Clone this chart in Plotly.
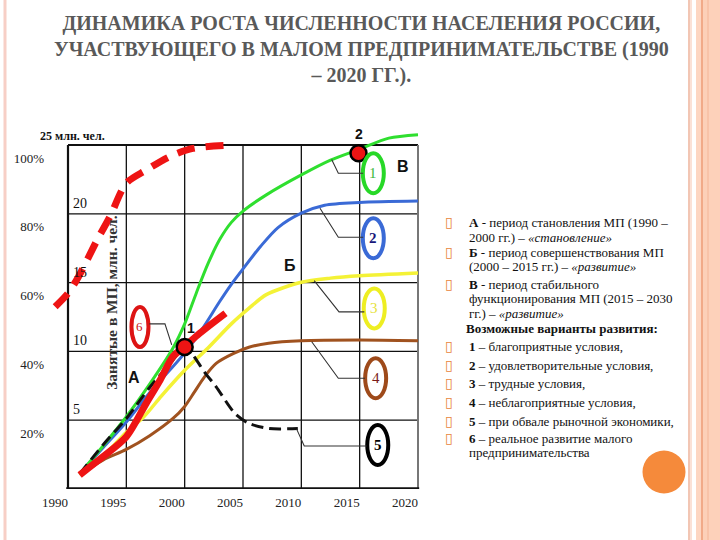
import plotly.graph_objects as go

# ---------------- data ----------------
green_years = [1991, 1993, 1995, 1997, 1999, 2000, 2001, 2002, 2003, 2004, 2005, 2007, 2010, 2012.5, 2015, 2017.5, 2020]
green_vals = [4.4, 12.5, 21, 30.5, 41, 48, 57, 65.5, 72.5, 77.5, 80.8, 85.5, 91.3, 95.6, 98.8, 102, 103]

blue_years = [1991, 1993, 1995, 1997, 2000, 2001.5, 2003, 2004, 2005, 2006.5, 2008, 2010, 2012, 2015, 2020]
blue_vals = [4.4, 12, 19.5, 28, 39.5, 46.5, 54.5, 59.5, 64, 70.5, 76, 80.2, 82.5, 83.3, 83.7]

yellow_years = [1991, 1993, 1995, 1996.5, 1998, 2000, 2002, 2004, 2005.5, 2007, 2010, 2012.5, 2015, 2020]
yellow_vals = [4.1, 9.5, 16.5, 21, 27, 34.5, 41, 48, 52.5, 56.5, 60.1, 61.3, 62, 62.8]

brown_years = [1991, 1993, 1995, 1997, 1999, 2000, 2000.8, 2001.7, 2002.7, 2004.2, 2005.5, 2007.2, 2010, 2015, 2020]
brown_vals = [4.1, 8.4, 11.5, 15.5, 20.5, 24, 28, 32.6, 36.5, 39.4, 41.2, 42.4, 43.1, 43.3, 43.1]

black_years = [1991, 1993, 1995, 1997, 1999, 2000, 2000.7, 2001.7, 2002.7, 2004.3, 2005.5, 2007.2, 2009.7]
black_vals = [4.4, 12.8, 20.5, 29.5, 37.5, 41.5, 39, 34, 29.7, 22, 19.1, 17.6, 17.6]

red_years = [1991, 1993, 1995, 1996.7, 1997.9, 1999, 2000, 2001.3, 2003.5]
red_vals = [4.1, 9.4, 15.2, 24.9, 31.7, 38.5, 41.4, 45.3, 51.1]

reddash_years = [1988.9, 1990, 1990.9, 1992.5, 1993.6, 1995, 1996.7, 1998.7, 2000.7, 2004.2]
reddash_vals = [53, 56.9, 61.7, 72.4, 79.2, 88.9, 92.7, 96.6, 99, 100]

point_labels = ["1", "2"]
point_years = [2000.0, 2014.9]
point_vals = [41.3, 97.6]

x_ticks = [1990, 1995, 2000, 2005, 2010, 2015, 2020]
pct_ticks = [20, 40, 60, 80, 100]
pct_text = ["20%", "40%", "60%", "80%", "100%"]
mln_ticks = [5, 10, 15, 20]
mln_max = 25

title_lines = ["ДИНАМИКА РОСТА ЧИСЛЕННОСТИ НАСЕЛЕНИЯ РОССИИ,",
               "УЧАСТВУЮЩЕГО В МАЛОМ ПРЕДПРИНИМАТЕЛЬСТВЕ (1990",
               "– 2020 ГГ.)."]

# ---------------- styling / layout helpers ----------------
W, H = 720, 540
ML, MR, MT, MB = 50, 296, 125, 51
PW, PH = W - ML - MR, H - MT - MB


def pxx(x):
    return (x - ML) / PW


def pxy(y):
    return (H - MB - y) / PH


GREEN = "#2fdf2f"
BLUE = "#3a6ad6"
YELLOW = "#f4f236"
BROWN = "#a0521f"
RED = "#ee1414"
BLACK = "#111111"

fig = go.Figure()

def line(xs, ys, color, width, dash=None, name=""):
    fig.add_trace(go.Scatter(x=xs, y=ys, mode="lines", name=name,
                             line=dict(color=color, width=width, shape="spline", smoothing=0.8,
                                       dash=dash),
                             hoverinfo="skip", showlegend=False))

line(brown_years, brown_vals, BROWN, 3, name="4")
line(yellow_years, yellow_vals, YELLOW, 3.5, name="3")
line(blue_years, blue_vals, BLUE, 3, name="2")
line(green_years, green_vals, GREEN, 3, name="1")
line(black_years, black_vals, BLACK, 3, dash="12px,6px", name="5")
line(red_years, red_vals, RED, 7, name="6")
line(reddash_years, reddash_vals, RED, 7, dash="18px,11px", name="potential")

fig.add_trace(go.Scatter(x=point_years, y=point_vals, mode="markers",
                         marker=dict(color=RED, size=16, line=dict(color="#000", width=2.5)),
                         hoverinfo="skip", showlegend=False, cliponaxis=False))

shapes = []
# grid (inner)
for yv in [20, 40, 60, 80]:
    shapes.append(dict(type="line", xref="x", yref="y", x0=1990, x1=2020, y0=yv, y1=yv,
                       line=dict(color="#111", width=1.3), layer="below"))
for xv in [1995, 2000, 2005, 2010, 2015]:
    shapes.append(dict(type="line", xref="x", yref="y", x0=xv, x1=xv, y0=0, y1=100,
                       line=dict(color="#111", width=1.3), layer="below"))
# frame
shapes.append(dict(type="line", xref="x", yref="y", x0=1990, x1=2020, y0=100, y1=100,
                   line=dict(color="#111", width=2), layer="below"))
shapes.append(dict(type="line", xref="x", yref="y", x0=1990, x1=1990, y0=0, y1=100,
                   line=dict(color="#111", width=2.2), layer="below"))
shapes.append(dict(type="line", xref="x", yref="y", x0=2020, x1=2020, y0=0, y1=100,
                   line=dict(color="#777", width=2), layer="below"))
shapes.append(dict(type="line", xref="x", yref="y", x0=1989.85, x1=2020.1, y0=0, y1=0,
                   line=dict(color="#111", width=3.5), layer="below"))

# callouts: label, ring colour, text colour, centre (year, pct), leader path
callouts = [
    ("1", "#27d827", "#3cb83c", 2016.17, 91.8, [(2015.3, 91.8), (2013.17, 91.8), (2012.6, 95.8)], 15, False),
    ("2", BLUE, "#17177a", 2016.17, 72.9, [(2015.3, 73.2), (2013.17, 73.2), (2011.6, 81.6)], 15, True),
    ("3", "#eeee22", "#e6e23a", 2016.25, 52.5, [(2015.4, 51.5), (2013.23, 51.5), (2011.1, 60.6)], 15, False),
    ("4", "#9e4a1a", "#7a1a1a", 2016.37, 32.2, [(2015.46, 32.2), (2013.17, 32.2), (2010.89, 42.8)], 15, False),
    ("5", "#000000", "#000000", 2016.55, 12.8, [(2015.6, 12.5), (2010.25, 12.5), (2009.6, 17.4)], 15, True),
    ("6", "#dd1414", "#cc1111", 1996.17, 47.1, [(1996.97, 48), (1998.31, 48), (1998.89, 41.9)], 13, False),
]
annotations = []
for lab, ring, tcol, cx, cy, path, fs, bold in callouts:
    hw = 10.5 if lab != "6" else 8.5
    shapes.append(dict(type="circle", xref="x", yref="y", xsizemode="pixel", ysizemode="pixel",
                       xanchor=cx, yanchor=cy, x0=-hw, x1=hw, y0=-20, y1=20,
                       line=dict(color=ring, width=4), fillcolor="rgba(255,255,255,0)"))
    d = "M " + " L ".join(f"{a},{b}" for a, b in path)
    shapes.append(dict(type="path", xref="x", yref="y", path=d,
                       line=dict(color="#333", width=1.1)))
    annotations.append(dict(x=cx, y=cy, xref="x", yref="y", showarrow=False,
                            text=f"<b>{lab}</b>" if bold else lab,
                            font=dict(family="Liberation Serif", size=fs, color=tcol)))

# point labels
for lab, xv, yv in zip(point_labels, point_years, point_vals):
    annotations.append(dict(x=xv, y=yv, xref="x", yref="y", showarrow=False, text=f"<b>{lab}</b>",
                            yshift=19, xshift=(6 if lab == "1" else 0),
                            font=dict(family="Liberation Sans", size=14, color="#111")))

# period letters
for lab, xv, yv in [("А", 1995.66, 32.5), ("Б", 2009.0, 65.1), ("В", 2018.74, 93.7)]:
    annotations.append(dict(x=xv, y=yv, xref="x", yref="y", showarrow=False, text=f"<b>{lab}</b>",
                            font=dict(family="Liberation Sans", size=16, color="#111")))

# million-people scale inside the plot
for v in mln_ticks:
    annotations.append(dict(x=1990, y=v / mln_max * 100, xref="x", yref="y", showarrow=False,
                            text=str(v), xanchor="left", yanchor="bottom", xshift=3, yshift=1,
                            font=dict(family="Liberation Serif", size=14, color="#111")))
annotations.append(dict(x=1990.35, y=102.6, xref="x", yref="y", showarrow=False,
                        text=f"<b>{mln_max} млн. чел.</b>",
                        font=dict(family="Liberation Serif", size=12, color="#111")))
annotations.append(dict(x=1993.77, y=54.4, xref="x", yref="y", showarrow=False, textangle=-90,
                        text="<b>Занятые в МП, млн. чел.</b>",
                        font=dict(family="Liberation Serif", size=15.5, color="#333")))

# title
annotations.append(dict(x=pxx(361), y=pxy(10), xref="paper", yref="paper", xanchor="center",
                        yanchor="top", showarrow=False, align="center",
                        text="<b>" + "<br>".join(title_lines) + "</b>",
                        font=dict(family="Liberation Serif", size=20, color="#595959")))

# right-hand text block: (line centre y, text, bullet?)
BUL_X, TXT_X = 449, 468
ORANGE = "#e8843a"
text_lines = [
    (222, "<b>А</b> - период становления МП (1990 –", True),
    (237, "2000 гг.) – <i>«становление»</i>", False),
    (252, "<b>Б</b> - период совершенствования МП", True),
    (266, "(2000 – 2015 гг.) – <i>«развитие»</i>", False),
    (284, "<b>В</b> - период стабильного", True),
    (298, "функционирования МП (2015 – 2030", False),
    (313, "гг.) – <i>«развитие»</i>", False),
    (328, "<b>Возможные варианты развития:</b>", None),
    (346, "<b>1</b> – благоприятные условия,", True),
    (365, "<b>2</b> – удовлетворительные условия,", True),
    (383, "<b>3</b> – трудные условия,", True),
    (402, "<b>4</b> – неблагоприятные условия,", True),
    (421, "<b>5</b> – при обвале рыночной экономики,", True),
    (438, "<b>6</b> – реальное развитие малого", True),
    (452, "предпринимательства", False),
]
for ycen, txt, bullet in text_lines:
    x_txt = 465 if bullet is None else TXT_X
    annotations.append(dict(x=pxx(x_txt), y=pxy(ycen), xref="paper", yref="paper",
                            xanchor="left", yanchor="middle", align="left", showarrow=False,
                            borderpad=0,
                            text=txt, font=dict(family="Liberation Serif", size=13, color="#111")))
    if bullet:
        annotations.append(dict(x=pxx(BUL_X), y=pxy(ycen), xref="paper", yref="paper",
                                xanchor="center", yanchor="middle", showarrow=False, text="▯",
                                borderpad=0,
                                font=dict(family="DejaVu Sans", size=14, color=ORANGE)))

# slide decoration
def vrect(x0, x1, color):
    shapes.append(dict(type="rect", xref="paper", yref="paper", x0=pxx(x0), x1=pxx(x1),
                       y0=pxy(H + 5), y1=pxy(-5), line=dict(width=0), fillcolor=color, layer="below"))

vrect(3.5, 6.5, "#f7cfc6")
vrect(688, 690, "#f2c6b4")
vrect(690, 692, "#fbe1d6")
vrect(696, 701, "#fdd6c2")
vrect(701, 703, "#f1aa88")
vrect(703, 707, "#fcd0b8")
vrect(707, 709, "#f8c3a8")
vrect(709, 721, "#fdd1ba")
shapes.append(dict(type="circle", xref="paper", yref="paper", x0=pxx(664 - 21.5), x1=pxx(664 + 21.5),
                   y0=pxy(472 + 21.5), y1=pxy(472 - 21.5), line=dict(width=0), fillcolor="#f58a3b"))

fig.update_layout(
    width=W, height=H, autosize=False,
    margin=dict(l=ML, r=MR, t=MT, b=MB, pad=0),
    paper_bgcolor="white", plot_bgcolor="white",
    shapes=shapes, annotations=annotations, showlegend=False,
)
fig.update_xaxes(range=[1990 - 18 / (350 / 30), 1990 - 18 / (350 / 30) + PW / (350 / 30)],
                 showgrid=False, zeroline=False, showline=False, ticks="", automargin=False,
                 tickvals=x_ticks, ticklabelshift=-13, ticklabelstandoff=4,
                 tickfont=dict(family="Liberation Serif", size=13, color="#222"))
fig.update_yaxes(range=[0, PH / 3.44], showgrid=False, zeroline=False, showline=False, ticks="",
                 automargin=False,
                 tickvals=pct_ticks, ticktext=pct_text, ticklabelshift=13, ticklabelstandoff=5,
                 tickfont=dict(family="Liberation Serif", size=13, color="#222"))

fig.write_html("out.html", config={"displayModeBar": False},
               post_script="document.body.style.margin='0px';")
